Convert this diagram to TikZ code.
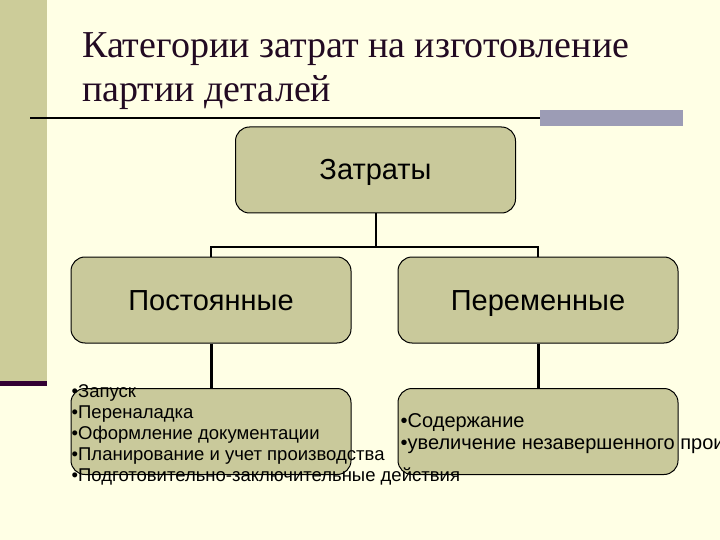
\documentclass[tikz,border=0pt]{standalone}
\usepackage{fontspec}
\setmainfont{Liberation Serif}
\newfontfamily\boxfont{Liberation Sans}
\usepackage{tikz}

\definecolor{cream}{HTML}{FFFFE5}
\definecolor{khaki}{HTML}{CCCC99}
\definecolor{boxfill}{HTML}{C9C99B}
\definecolor{plum}{HTML}{330033}
\definecolor{slate}{HTML}{9C9CB5}
\definecolor{titleink}{HTML}{220A22}

\tikzset{
  costbox/.style = {draw, line width = 1pt, fill = boxfill, rounded corners = 14pt,
    minimum width = 280pt, minimum height = 86pt, inner sep = 0pt,
    text height = 23pt, text depth = 3pt,
    font = \boxfont\fontsize{29}{31}\selectfont},
  listtext/.style = {anchor = west, align = left, inner sep = 0pt,
    font = \boxfont\fontsize{18.5}{21}\selectfont},
  titletext/.style = {anchor = base west, inner sep = 0pt, text = titleink,
    font = \fontsize{38}{44}\selectfont},
  link/.style = {line width = 2pt}
}

\begin{document}
\begin{tikzpicture}[x = 1pt, y = -1pt]
  \useasboundingbox (0,0) rectangle (720,540);
  \clip (0,0) rectangle (720,540);

  % slide background
  \fill[cream] (0,0) rectangle (720,540);
  \fill[khaki] (0,0) rectangle (47,382);
  \fill[plum] (0,381) rectangle (47,386);
  \draw[line width = 2.5pt] (30,118) -- (540,118);
  \fill[slate] (540,110) rectangle (683,126);

  \node[titletext] (title1) at (82,58) {Категории затрат на изготовление};
  \node[titletext] (title2) at (82,102) {партии деталей};

  % tree
  \node[costbox] (root) at (375.5,170) {Затраты};
  \node[costbox] (fixed) at (211,300) {Постоянные};
  \node[costbox] (variable) at (538,300) {Переменные};
  \node[costbox] (fixedlist) at (211,431.5) {};
  \node[costbox] (varlist) at (538,431.5) {};

  \coordinate (bus) at (375.5,247);
  \draw[link] (root.south) -- (bus);
  \draw[link] (bus) -| (fixed.north);
  \draw[link] (bus) -| (variable.north);
  \draw[line width = 3pt] (fixed.south) -- (fixedlist.north);
  \draw[line width = 3pt] (variable.south) -- (varlist.north);

  \node[listtext] (fixedtext) at ([xshift = 1pt, yshift = -3pt]fixedlist.west)
  {•Запуск\\•Переналадка\\•Оформление документации\\•Планирование и учет производства\\•Подготовительно-заключительные действия};
  \node[listtext, font = \boxfont\fontsize{20}{22}\selectfont] (vartext) at ([xshift = 3pt, yshift = -2.5pt]varlist.west)
  {•Содержание\\•увеличение незавершенного производства};
\end{tikzpicture}
\end{document}
